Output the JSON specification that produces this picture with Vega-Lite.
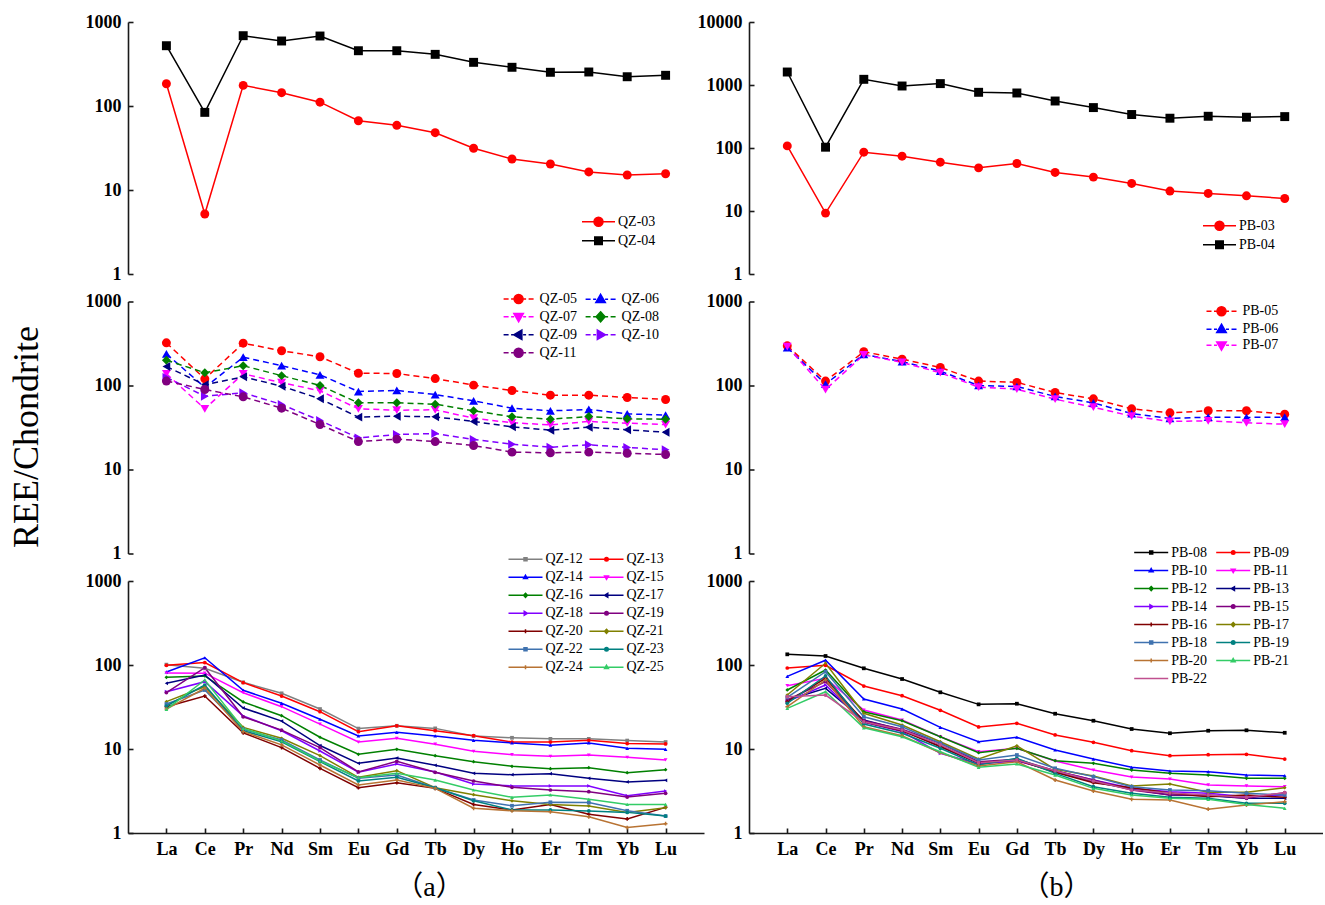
{
"$schema":"https://vega.github.io/schema/vega-lite/v6.json",
"padding":{"left":8,"top":13,"right":0,"bottom":0},
"background":"white",
"data":{"values":[
{"s":"QZ-03","e":"La","v":184},{"s":"QZ-03","e":"Ce","v":5.18},{"s":"QZ-03","e":"Pr","v":176},{"s":"QZ-03","e":"Nd","v":144},{"s":"QZ-03","e":"Sm","v":111},{"s":"QZ-03","e":"Eu","v":66.8},{"s":"QZ-03","e":"Gd","v":58.9},{"s":"QZ-03","e":"Tb","v":48.1},{"s":"QZ-03","e":"Dy","v":31.4},{"s":"QZ-03","e":"Ho","v":23.4},{"s":"QZ-03","e":"Er","v":20.4},{"s":"QZ-03","e":"Tm","v":16.4},{"s":"QZ-03","e":"Yb","v":15.1},{"s":"QZ-03","e":"Lu","v":15.6},
{"s":"QZ-04","e":"La","v":522},{"s":"QZ-04","e":"Ce","v":84},{"s":"QZ-04","e":"Pr","v":687},{"s":"QZ-04","e":"Nd","v":594},{"s":"QZ-04","e":"Sm","v":681},{"s":"QZ-04","e":"Eu","v":455},{"s":"QZ-04","e":"Gd","v":455},{"s":"QZ-04","e":"Tb","v":412},{"s":"QZ-04","e":"Dy","v":331},{"s":"QZ-04","e":"Ho","v":289},{"s":"QZ-04","e":"Er","v":252},{"s":"QZ-04","e":"Tm","v":254},{"s":"QZ-04","e":"Yb","v":223},{"s":"QZ-04","e":"Lu","v":232},
{"s":"PB-03","e":"La","v":108},{"s":"PB-03","e":"Ce","v":9.26},{"s":"PB-03","e":"Pr","v":85.8},{"s":"PB-03","e":"Nd","v":74.1},{"s":"PB-03","e":"Sm","v":59.6},{"s":"PB-03","e":"Eu","v":48.4},{"s":"PB-03","e":"Gd","v":56.8},{"s":"PB-03","e":"Tb","v":40.9},{"s":"PB-03","e":"Dy","v":34.5},{"s":"PB-03","e":"Ho","v":27.4},{"s":"PB-03","e":"Er","v":20.7},{"s":"PB-03","e":"Tm","v":19.0},{"s":"PB-03","e":"Yb","v":17.4},{"s":"PB-03","e":"Lu","v":15.8},
{"s":"PB-04","e":"La","v":1607},{"s":"PB-04","e":"Ce","v":103},{"s":"PB-04","e":"Pr","v":1231},{"s":"PB-04","e":"Nd","v":964},{"s":"PB-04","e":"Sm","v":1052},{"s":"PB-04","e":"Eu","v":766},{"s":"PB-04","e":"Gd","v":747},{"s":"PB-04","e":"Tb","v":557},{"s":"PB-04","e":"Dy","v":438},{"s":"PB-04","e":"Ho","v":340},{"s":"PB-04","e":"Er","v":297},{"s":"PB-04","e":"Tm","v":319},{"s":"PB-04","e":"Yb","v":308},{"s":"PB-04","e":"Lu","v":315},
{"s":"QZ-05","e":"La","v":322},{"s":"QZ-05","e":"Ce","v":120},{"s":"QZ-05","e":"Pr","v":319},{"s":"QZ-05","e":"Nd","v":259},{"s":"QZ-05","e":"Sm","v":220},{"s":"QZ-05","e":"Eu","v":140},{"s":"QZ-05","e":"Gd","v":139},{"s":"QZ-05","e":"Tb","v":121},{"s":"QZ-05","e":"Dy","v":101},{"s":"QZ-05","e":"Ho","v":87.2},{"s":"QZ-05","e":"Er","v":76.7},{"s":"QZ-05","e":"Tm","v":76.7},{"s":"QZ-05","e":"Yb","v":72},{"s":"QZ-05","e":"Lu","v":68.1},
{"s":"QZ-06","e":"La","v":238},{"s":"QZ-06","e":"Ce","v":95},{"s":"QZ-06","e":"Pr","v":217},{"s":"QZ-06","e":"Nd","v":172},{"s":"QZ-06","e":"Sm","v":134},{"s":"QZ-06","e":"Eu","v":84.8},{"s":"QZ-06","e":"Gd","v":87.2},{"s":"QZ-06","e":"Tb","v":78.1},{"s":"QZ-06","e":"Dy","v":65.7},{"s":"QZ-06","e":"Ho","v":53.7},{"s":"QZ-06","e":"Er","v":50.0},{"s":"QZ-06","e":"Tm","v":51.8},{"s":"QZ-06","e":"Yb","v":46.0},{"s":"QZ-06","e":"Lu","v":44.3},
{"s":"QZ-07","e":"La","v":138},{"s":"QZ-07","e":"Ce","v":52.8},{"s":"QZ-07","e":"Pr","v":138},{"s":"QZ-07","e":"Nd","v":108},{"s":"QZ-07","e":"Sm","v":86.5},{"s":"QZ-07","e":"Eu","v":52.8},{"s":"QZ-07","e":"Gd","v":50.8},{"s":"QZ-07","e":"Tb","v":51.4},{"s":"QZ-07","e":"Dy","v":40.8},{"s":"QZ-07","e":"Ho","v":36.0},{"s":"QZ-07","e":"Er","v":34.0},{"s":"QZ-07","e":"Tm","v":37.3},{"s":"QZ-07","e":"Yb","v":35.6},{"s":"QZ-07","e":"Lu","v":34.3},
{"s":"QZ-08","e":"La","v":200},{"s":"QZ-08","e":"Ce","v":142},{"s":"QZ-08","e":"Pr","v":172},{"s":"QZ-08","e":"Nd","v":131},{"s":"QZ-08","e":"Sm","v":100},{"s":"QZ-08","e":"Eu","v":62.2},{"s":"QZ-08","e":"Gd","v":62.2},{"s":"QZ-08","e":"Tb","v":59.9},{"s":"QZ-08","e":"Dy","v":50.0},{"s":"QZ-08","e":"Ho","v":42.4},{"s":"QZ-08","e":"Er","v":39.7},{"s":"QZ-08","e":"Tm","v":42.7},{"s":"QZ-08","e":"Yb","v":40.1},{"s":"QZ-08","e":"Lu","v":39.7},
{"s":"QZ-09","e":"La","v":168},{"s":"QZ-09","e":"Ce","v":102},{"s":"QZ-09","e":"Pr","v":127},{"s":"QZ-09","e":"Nd","v":98.2},{"s":"QZ-09","e":"Sm","v":69.5},{"s":"QZ-09","e":"Eu","v":42.0},{"s":"QZ-09","e":"Gd","v":43.1},{"s":"QZ-09","e":"Tb","v":42.4},{"s":"QZ-09","e":"Dy","v":37.3},{"s":"QZ-09","e":"Ho","v":32.2},{"s":"QZ-09","e":"Er","v":29.4},{"s":"QZ-09","e":"Tm","v":31.9},{"s":"QZ-09","e":"Yb","v":29.7},{"s":"QZ-09","e":"Lu","v":27.8},
{"s":"QZ-10","e":"La","v":125},{"s":"QZ-10","e":"Ce","v":74.6},{"s":"QZ-10","e":"Pr","v":81.9},{"s":"QZ-10","e":"Nd","v":59.4},{"s":"QZ-10","e":"Sm","v":38.3},{"s":"QZ-10","e":"Eu","v":23.8},{"s":"QZ-10","e":"Gd","v":26.1},{"s":"QZ-10","e":"Tb","v":26.8},{"s":"QZ-10","e":"Dy","v":22.8},{"s":"QZ-10","e":"Ho","v":20.0},{"s":"QZ-10","e":"Er","v":18.4},{"s":"QZ-10","e":"Tm","v":19.7},{"s":"QZ-10","e":"Yb","v":18.3},{"s":"QZ-10","e":"Lu","v":17.2},
{"s":"QZ-11","e":"La","v":113},{"s":"QZ-11","e":"Ce","v":89.6},{"s":"QZ-11","e":"Pr","v":73.3},{"s":"QZ-11","e":"Nd","v":53.7},{"s":"QZ-11","e":"Sm","v":34.3},{"s":"QZ-11","e":"Eu","v":21.5},{"s":"QZ-11","e":"Gd","v":23.0},{"s":"QZ-11","e":"Tb","v":21.5},{"s":"QZ-11","e":"Dy","v":19.3},{"s":"QZ-11","e":"Ho","v":16.1},{"s":"QZ-11","e":"Er","v":15.8},{"s":"QZ-11","e":"Tm","v":16.1},{"s":"QZ-11","e":"Yb","v":15.6},{"s":"QZ-11","e":"Lu","v":15.1},
{"s":"PB-05","e":"La","v":297},{"s":"PB-05","e":"Ce","v":113},{"s":"PB-05","e":"Pr","v":252},{"s":"PB-05","e":"Nd","v":206},{"s":"PB-05","e":"Sm","v":164},{"s":"PB-05","e":"Eu","v":113},{"s":"PB-05","e":"Gd","v":109},{"s":"PB-05","e":"Tb","v":82.5},{"s":"PB-05","e":"Dy","v":69.4},{"s":"PB-05","e":"Ho","v":52.8},{"s":"PB-05","e":"Er","v":47.3},{"s":"PB-05","e":"Tm","v":50.0},{"s":"PB-05","e":"Yb","v":50.0},{"s":"PB-05","e":"Lu","v":45.6},
{"s":"PB-06","e":"La","v":283},{"s":"PB-06","e":"Ce","v":104},{"s":"PB-06","e":"Pr","v":234},{"s":"PB-06","e":"Nd","v":193},{"s":"PB-06","e":"Sm","v":148},{"s":"PB-06","e":"Eu","v":100},{"s":"PB-06","e":"Gd","v":97.3},{"s":"PB-06","e":"Tb","v":74},{"s":"PB-06","e":"Dy","v":62.2},{"s":"PB-06","e":"Ho","v":46.4},{"s":"PB-06","e":"Er","v":40.5},{"s":"PB-06","e":"Tm","v":42.0},{"s":"PB-06","e":"Yb","v":41.7},{"s":"PB-06","e":"Lu","v":42.0},
{"s":"PB-07","e":"La","v":291},{"s":"PB-07","e":"Ce","v":89.6},{"s":"PB-07","e":"Pr","v":232},{"s":"PB-07","e":"Nd","v":188},{"s":"PB-07","e":"Sm","v":142},{"s":"PB-07","e":"Eu","v":95.5},{"s":"PB-07","e":"Gd","v":90.4},{"s":"PB-07","e":"Tb","v":68.7},{"s":"PB-07","e":"Dy","v":55.2},{"s":"PB-07","e":"Ho","v":43.1},{"s":"PB-07","e":"Er","v":37.3},{"s":"PB-07","e":"Tm","v":38.0},{"s":"PB-07","e":"Yb","v":36.0},{"s":"PB-07","e":"Lu","v":34.6},
{"s":"QZ-12","e":"La","v":101},{"s":"QZ-12","e":"Ce","v":91.3},{"s":"QZ-12","e":"Pr","v":62.2},{"s":"QZ-12","e":"Nd","v":46.0},{"s":"QZ-12","e":"Sm","v":29.9},{"s":"QZ-12","e":"Eu","v":17.5},{"s":"QZ-12","e":"Gd","v":18.9},{"s":"QZ-12","e":"Tb","v":17.6},{"s":"QZ-12","e":"Dy","v":14.3},{"s":"QZ-12","e":"Ho","v":13.6},{"s":"QZ-12","e":"Er","v":13.2},{"s":"QZ-12","e":"Tm","v":13.2},{"s":"QZ-12","e":"Yb","v":12.6},{"s":"QZ-12","e":"Lu","v":12.1},
{"s":"QZ-13","e":"La","v":99.1},{"s":"QZ-13","e":"Ce","v":107},{"s":"QZ-13","e":"Pr","v":61.6},{"s":"QZ-13","e":"Nd","v":42.7},{"s":"QZ-13","e":"Sm","v":27.8},{"s":"QZ-13","e":"Eu","v":16.1},{"s":"QZ-13","e":"Gd","v":18.9},{"s":"QZ-13","e":"Tb","v":16.5},{"s":"QZ-13","e":"Dy","v":14.4},{"s":"QZ-13","e":"Ho","v":12.1},{"s":"QZ-13","e":"Er","v":12.1},{"s":"QZ-13","e":"Tm","v":12.7},{"s":"QZ-13","e":"Yb","v":11.6},{"s":"QZ-13","e":"Lu","v":11.5},
{"s":"QZ-14","e":"La","v":82.6},{"s":"QZ-14","e":"Ce","v":122},{"s":"QZ-14","e":"Pr","v":50.0},{"s":"QZ-14","e":"Nd","v":35.0},{"s":"QZ-14","e":"Sm","v":22.6},{"s":"QZ-14","e":"Eu","v":14.3},{"s":"QZ-14","e":"Gd","v":15.8},{"s":"QZ-14","e":"Tb","v":14.3},{"s":"QZ-14","e":"Dy","v":12.7},{"s":"QZ-14","e":"Ho","v":11.8},{"s":"QZ-14","e":"Er","v":11.1},{"s":"QZ-14","e":"Tm","v":11.8},{"s":"QZ-14","e":"Yb","v":10.2},{"s":"QZ-14","e":"Lu","v":9.9},
{"s":"QZ-15","e":"La","v":80.3},{"s":"QZ-15","e":"Ce","v":80},{"s":"QZ-15","e":"Pr","v":46.8},{"s":"QZ-15","e":"Nd","v":31.9},{"s":"QZ-15","e":"Sm","v":19.8},{"s":"QZ-15","e":"Eu","v":12.1},{"s":"QZ-15","e":"Gd","v":13.4},{"s":"QZ-15","e":"Tb","v":11.4},{"s":"QZ-15","e":"Dy","v":9.39},{"s":"QZ-15","e":"Ho","v":8.55},{"s":"QZ-15","e":"Er","v":8.18},{"s":"QZ-15","e":"Tm","v":8.48},{"s":"QZ-15","e":"Yb","v":7.96},{"s":"QZ-15","e":"Lu","v":7.40},
{"s":"QZ-16","e":"La","v":71.4},{"s":"QZ-16","e":"Ce","v":74},{"s":"QZ-16","e":"Pr","v":36.3},{"s":"QZ-16","e":"Nd","v":24.9},{"s":"QZ-16","e":"Sm","v":13.8},{"s":"QZ-16","e":"Eu","v":8.65},{"s":"QZ-16","e":"Gd","v":9.92},{"s":"QZ-16","e":"Tb","v":8.33},{"s":"QZ-16","e":"Dy","v":7.06},{"s":"QZ-16","e":"Ho","v":6.22},{"s":"QZ-16","e":"Er","v":5.83},{"s":"QZ-16","e":"Tm","v":6.0},{"s":"QZ-16","e":"Yb","v":5.22},{"s":"QZ-16","e":"Lu","v":5.67},
{"s":"QZ-17","e":"La","v":60.5},{"s":"QZ-17","e":"Ce","v":76},{"s":"QZ-17","e":"Pr","v":30.8},{"s":"QZ-17","e":"Nd","v":21.5},{"s":"QZ-17","e":"Sm","v":11.0},{"s":"QZ-17","e":"Eu","v":6.75},{"s":"QZ-17","e":"Gd","v":7.81},{"s":"QZ-17","e":"Tb","v":6.40},{"s":"QZ-17","e":"Dy","v":5.13},{"s":"QZ-17","e":"Ho","v":4.94},{"s":"QZ-17","e":"Er","v":5.08},{"s":"QZ-17","e":"Tm","v":4.48},{"s":"QZ-17","e":"Yb","v":4.05},{"s":"QZ-17","e":"Lu","v":4.24},
{"s":"QZ-18","e":"La","v":48.1},{"s":"QZ-18","e":"Ce","v":63.3},{"s":"QZ-18","e":"Pr","v":24.7},{"s":"QZ-18","e":"Nd","v":16.5},{"s":"QZ-18","e":"Sm","v":9.47},{"s":"QZ-18","e":"Eu","v":5.28},{"s":"QZ-18","e":"Gd","v":6.63},{"s":"QZ-18","e":"Tb","v":5.33},{"s":"QZ-18","e":"Dy","v":3.83},{"s":"QZ-18","e":"Ho","v":3.63},{"s":"QZ-18","e":"Er","v":3.63},{"s":"QZ-18","e":"Tm","v":3.63},{"s":"QZ-18","e":"Yb","v":2.78},{"s":"QZ-18","e":"Lu","v":3.16},
{"s":"QZ-19","e":"La","v":47},{"s":"QZ-19","e":"Ce","v":92.9},{"s":"QZ-19","e":"Pr","v":24.2},{"s":"QZ-19","e":"Nd","v":16.8},{"s":"QZ-19","e":"Sm","v":10.4},{"s":"QZ-19","e":"Eu","v":5.33},{"s":"QZ-19","e":"Gd","v":7.13},{"s":"QZ-19","e":"Tb","v":5.28},{"s":"QZ-19","e":"Dy","v":4.16},{"s":"QZ-19","e":"Ho","v":3.50},{"s":"QZ-19","e":"Er","v":3.25},{"s":"QZ-19","e":"Tm","v":3.10},{"s":"QZ-19","e":"Yb","v":2.68},{"s":"QZ-19","e":"Lu","v":2.97},
{"s":"QZ-20","e":"La","v":31.9},{"s":"QZ-20","e":"Ce","v":42.7},{"s":"QZ-20","e":"Pr","v":15.6},{"s":"QZ-20","e":"Nd","v":10.4},{"s":"QZ-20","e":"Sm","v":5.89},{"s":"QZ-20","e":"Eu","v":3.46},{"s":"QZ-20","e":"Gd","v":3.97},{"s":"QZ-20","e":"Tb","v":3.40},{"s":"QZ-20","e":"Dy","v":2.19},{"s":"QZ-20","e":"Ho","v":1.88},{"s":"QZ-20","e":"Er","v":2.19},{"s":"QZ-20","e":"Tm","v":1.67},{"s":"QZ-20","e":"Yb","v":1.47},{"s":"QZ-20","e":"Lu","v":2.02},
{"s":"QZ-21","e":"La","v":36.6},{"s":"QZ-21","e":"Ce","v":55.2},{"s":"QZ-21","e":"Pr","v":18.1},{"s":"QZ-21","e":"Nd","v":13.4},{"s":"QZ-21","e":"Sm","v":8.33},{"s":"QZ-21","e":"Eu","v":4.60},{"s":"QZ-21","e":"Gd","v":5.52},{"s":"QZ-21","e":"Tb","v":3.46},{"s":"QZ-21","e":"Dy","v":2.86},{"s":"QZ-21","e":"Ho","v":2.42},{"s":"QZ-21","e":"Er","v":2.19},{"s":"QZ-21","e":"Tm","v":2.10},{"s":"QZ-21","e":"Yb","v":1.76},{"s":"QZ-21","e":"Lu","v":2.0},
{"s":"QZ-22","e":"La","v":34.3},{"s":"QZ-22","e":"Ce","v":50.4},{"s":"QZ-22","e":"Pr","v":17.2},{"s":"QZ-22","e":"Nd","v":12.8},{"s":"QZ-22","e":"Sm","v":7.40},{"s":"QZ-22","e":"Eu","v":4.48},{"s":"QZ-22","e":"Gd","v":4.90},{"s":"QZ-22","e":"Tb","v":3.46},{"s":"QZ-22","e":"Dy","v":2.47},{"s":"QZ-22","e":"Ho","v":2.11},{"s":"QZ-22","e":"Er","v":2.32},{"s":"QZ-22","e":"Tm","v":2.30},{"s":"QZ-22","e":"Yb","v":1.84},{"s":"QZ-22","e":"Lu","v":1.59},
{"s":"QZ-23","e":"La","v":32.5},{"s":"QZ-23","e":"Ce","v":57.8},{"s":"QZ-23","e":"Pr","v":16.5},{"s":"QZ-23","e":"Nd","v":12.2},{"s":"QZ-23","e":"Sm","v":7.06},{"s":"QZ-23","e":"Eu","v":4.16},{"s":"QZ-23","e":"Gd","v":4.60},{"s":"QZ-23","e":"Tb","v":3.46},{"s":"QZ-23","e":"Dy","v":2.42},{"s":"QZ-23","e":"Ho","v":1.88},{"s":"QZ-23","e":"Er","v":1.88},{"s":"QZ-23","e":"Tm","v":1.83},{"s":"QZ-23","e":"Yb","v":1.76},{"s":"QZ-23","e":"Lu","v":1.59},
{"s":"QZ-24","e":"La","v":29.9},{"s":"QZ-24","e":"Ce","v":52.8},{"s":"QZ-24","e":"Pr","v":16.1},{"s":"QZ-24","e":"Nd","v":11.2},{"s":"QZ-24","e":"Sm","v":6.45},{"s":"QZ-24","e":"Eu","v":3.73},{"s":"QZ-24","e":"Gd","v":4.27},{"s":"QZ-24","e":"Tb","v":3.40},{"s":"QZ-24","e":"Dy","v":1.97},{"s":"QZ-24","e":"Ho","v":1.84},{"s":"QZ-24","e":"Er","v":1.79},{"s":"QZ-24","e":"Tm","v":1.56},{"s":"QZ-24","e":"Yb","v":1.16},{"s":"QZ-24","e":"Lu","v":1.29},
{"s":"QZ-25","e":"La","v":29.7},{"s":"QZ-25","e":"Ce","v":66.3},{"s":"QZ-25","e":"Pr","v":17.6},{"s":"QZ-25","e":"Nd","v":12.5},{"s":"QZ-25","e":"Sm","v":7.20},{"s":"QZ-25","e":"Eu","v":4.56},{"s":"QZ-25","e":"Gd","v":5.13},{"s":"QZ-25","e":"Tb","v":4.27},{"s":"QZ-25","e":"Dy","v":3.25},{"s":"QZ-25","e":"Ho","v":2.66},{"s":"QZ-25","e":"Er","v":2.84},{"s":"QZ-25","e":"Tm","v":2.52},{"s":"QZ-25","e":"Yb","v":2.19},{"s":"QZ-25","e":"Lu","v":2.19},
{"s":"PB-08","e":"La","v":134},{"s":"PB-08","e":"Ce","v":128},{"s":"PB-08","e":"Pr","v":91.3},{"s":"PB-08","e":"Nd","v":68.1},{"s":"PB-08","e":"Sm","v":47.3},{"s":"PB-08","e":"Eu","v":34.0},{"s":"PB-08","e":"Gd","v":34.6},{"s":"PB-08","e":"Tb","v":26.3},{"s":"PB-08","e":"Dy","v":21.7},{"s":"PB-08","e":"Ho","v":17.3},{"s":"PB-08","e":"Er","v":15.4},{"s":"PB-08","e":"Tm","v":16.5},{"s":"PB-08","e":"Yb","v":16.7},{"s":"PB-08","e":"Lu","v":15.6},
{"s":"PB-09","e":"La","v":92.1},{"s":"PB-09","e":"Ce","v":99.2},{"s":"PB-09","e":"Pr","v":56.2},{"s":"PB-09","e":"Nd","v":43.1},{"s":"PB-09","e":"Sm","v":28.9},{"s":"PB-09","e":"Eu","v":18.3},{"s":"PB-09","e":"Gd","v":20.2},{"s":"PB-09","e":"Tb","v":14.7},{"s":"PB-09","e":"Dy","v":12.0},{"s":"PB-09","e":"Ho","v":9.55},{"s":"PB-09","e":"Er","v":8.33},{"s":"PB-09","e":"Tm","v":8.56},{"s":"PB-09","e":"Yb","v":8.65},{"s":"PB-09","e":"Lu","v":7.60},
{"s":"PB-10","e":"La","v":73.3},{"s":"PB-10","e":"Ce","v":114},{"s":"PB-10","e":"Pr","v":39.4},{"s":"PB-10","e":"Nd","v":29.9},{"s":"PB-10","e":"Sm","v":18.1},{"s":"PB-10","e":"Eu","v":12.2},{"s":"PB-10","e":"Gd","v":13.8},{"s":"PB-10","e":"Tb","v":9.73},{"s":"PB-10","e":"Dy","v":7.60},{"s":"PB-10","e":"Ho","v":6.05},{"s":"PB-10","e":"Er","v":5.47},{"s":"PB-10","e":"Tm","v":5.37},{"s":"PB-10","e":"Yb","v":4.90},{"s":"PB-10","e":"Lu","v":4.81},
{"s":"PB-11","e":"La","v":56.7},{"s":"PB-11","e":"Ce","v":69.4},{"s":"PB-11","e":"Pr","v":29.1},{"s":"PB-11","e":"Nd","v":22.1},{"s":"PB-11","e":"Sm","v":14.0},{"s":"PB-11","e":"Eu","v":9.29},{"s":"PB-11","e":"Gd","v":10.2},{"s":"PB-11","e":"Tb","v":7.20},{"s":"PB-11","e":"Dy","v":5.62},{"s":"PB-11","e":"Ho","v":4.64},{"s":"PB-11","e":"Er","v":4.39},{"s":"PB-11","e":"Tm","v":3.73},{"s":"PB-11","e":"Yb","v":3.63},{"s":"PB-11","e":"Lu","v":3.56},
{"s":"PB-12","e":"La","v":50.4},{"s":"PB-12","e":"Ce","v":87.2},{"s":"PB-12","e":"Pr","v":27.8},{"s":"PB-12","e":"Nd","v":21.7},{"s":"PB-12","e":"Sm","v":14.0},{"s":"PB-12","e":"Eu","v":9.04},{"s":"PB-12","e":"Gd","v":10.2},{"s":"PB-12","e":"Tb","v":7.26},{"s":"PB-12","e":"Dy","v":6.75},{"s":"PB-12","e":"Ho","v":5.62},{"s":"PB-12","e":"Er","v":5.13},{"s":"PB-12","e":"Tm","v":4.90},{"s":"PB-12","e":"Yb","v":4.48},{"s":"PB-12","e":"Lu","v":4.48},
{"s":"PB-13","e":"La","v":38.3},{"s":"PB-13","e":"Ce","v":52.8},{"s":"PB-13","e":"Pr","v":22.1},{"s":"PB-13","e":"Nd","v":16.8},{"s":"PB-13","e":"Sm","v":10.7},{"s":"PB-13","e":"Eu","v":6.75},{"s":"PB-13","e":"Gd","v":7.40},{"s":"PB-13","e":"Tb","v":5.37},{"s":"PB-13","e":"Dy","v":4.08},{"s":"PB-13","e":"Ho","v":3.31},{"s":"PB-13","e":"Er","v":2.84},{"s":"PB-13","e":"Tm","v":2.78},{"s":"PB-13","e":"Yb","v":2.59},{"s":"PB-13","e":"Lu","v":2.59},
{"s":"PB-14","e":"La","v":36.6},{"s":"PB-14","e":"Ce","v":57.8},{"s":"PB-14","e":"Pr","v":20.8},{"s":"PB-14","e":"Nd","v":16.1},{"s":"PB-14","e":"Sm","v":8.89},{"s":"PB-14","e":"Eu","v":6.63},{"s":"PB-14","e":"Gd","v":7.20},{"s":"PB-14","e":"Tb","v":5.52},{"s":"PB-14","e":"Dy","v":4.27},{"s":"PB-14","e":"Ho","v":3.40},{"s":"PB-14","e":"Er","v":3.10},{"s":"PB-14","e":"Tm","v":2.97},{"s":"PB-14","e":"Yb","v":2.71},{"s":"PB-14","e":"Lu","v":2.84},
{"s":"PB-15","e":"La","v":38.3},{"s":"PB-15","e":"Ce","v":63.3},{"s":"PB-15","e":"Pr","v":21.7},{"s":"PB-15","e":"Nd","v":17.2},{"s":"PB-15","e":"Sm","v":11.7},{"s":"PB-15","e":"Eu","v":7.06},{"s":"PB-15","e":"Gd","v":7.54},{"s":"PB-15","e":"Tb","v":5.52},{"s":"PB-15","e":"Dy","v":4.27},{"s":"PB-15","e":"Ho","v":3.25},{"s":"PB-15","e":"Er","v":2.84},{"s":"PB-15","e":"Tm","v":2.84},{"s":"PB-15","e":"Yb","v":2.59},{"s":"PB-15","e":"Lu","v":3.02},
{"s":"PB-16","e":"La","v":36.6},{"s":"PB-16","e":"Ce","v":69.4},{"s":"PB-16","e":"Pr","v":21.1},{"s":"PB-16","e":"Nd","v":16.5},{"s":"PB-16","e":"Sm","v":10.7},{"s":"PB-16","e":"Eu","v":6.87},{"s":"PB-16","e":"Gd","v":7.40},{"s":"PB-16","e":"Tb","v":5.28},{"s":"PB-16","e":"Dy","v":3.97},{"s":"PB-16","e":"Ho","v":3.46},{"s":"PB-16","e":"Er","v":3.0},{"s":"PB-16","e":"Tm","v":2.71},{"s":"PB-16","e":"Yb","v":2.84},{"s":"PB-16","e":"Lu","v":2.66},
{"s":"PB-17","e":"La","v":43.9},{"s":"PB-17","e":"Ce","v":105},{"s":"PB-17","e":"Pr","v":26.6},{"s":"PB-17","e":"Nd","v":19.3},{"s":"PB-17","e":"Sm","v":12.2},{"s":"PB-17","e":"Eu","v":7.60},{"s":"PB-17","e":"Gd","v":10.9},{"s":"PB-17","e":"Tb","v":5.73},{"s":"PB-17","e":"Dy","v":4.77},{"s":"PB-17","e":"Ho","v":3.63},{"s":"PB-17","e":"Er","v":3.83},{"s":"PB-17","e":"Tm","v":3.05},{"s":"PB-17","e":"Yb","v":3.05},{"s":"PB-17","e":"Lu","v":3.46},
{"s":"PB-18","e":"La","v":41.2},{"s":"PB-18","e":"Ce","v":83.3},{"s":"PB-18","e":"Pr","v":24.2},{"s":"PB-18","e":"Nd","v":18.4},{"s":"PB-18","e":"Sm","v":11.7},{"s":"PB-18","e":"Eu","v":7.40},{"s":"PB-18","e":"Gd","v":8.48},{"s":"PB-18","e":"Tb","v":5.89},{"s":"PB-18","e":"Dy","v":4.69},{"s":"PB-18","e":"Ho","v":3.56},{"s":"PB-18","e":"Er","v":3.25},{"s":"PB-18","e":"Tm","v":3.19},{"s":"PB-18","e":"Yb","v":2.97},{"s":"PB-18","e":"Lu","v":2.84},
{"s":"PB-19","e":"La","v":35.0},{"s":"PB-19","e":"Ce","v":74.0},{"s":"PB-19","e":"Pr","v":19.8},{"s":"PB-19","e":"Nd","v":15.4},{"s":"PB-19","e":"Sm","v":10.2},{"s":"PB-19","e":"Eu","v":6.45},{"s":"PB-19","e":"Gd","v":7.75},{"s":"PB-19","e":"Tb","v":5.13},{"s":"PB-19","e":"Dy","v":3.56},{"s":"PB-19","e":"Ho","v":2.97},{"s":"PB-19","e":"Er","v":2.66},{"s":"PB-19","e":"Tm","v":2.59},{"s":"PB-19","e":"Yb","v":2.26},{"s":"PB-19","e":"Lu","v":2.26},
{"s":"PB-20","e":"La","v":31.9},{"s":"PB-20","e":"Ce","v":66.3},{"s":"PB-20","e":"Pr","v":18.4},{"s":"PB-20","e":"Nd","v":14.4},{"s":"PB-20","e":"Sm","v":9.04},{"s":"PB-20","e":"Eu","v":6.28},{"s":"PB-20","e":"Gd","v":7.06},{"s":"PB-20","e":"Tb","v":4.27},{"s":"PB-20","e":"Dy","v":3.16},{"s":"PB-20","e":"Ho","v":2.52},{"s":"PB-20","e":"Er","v":2.47},{"s":"PB-20","e":"Tm","v":1.92},{"s":"PB-20","e":"Yb","v":2.15},{"s":"PB-20","e":"Lu","v":2.36},
{"s":"PB-21","e":"La","v":30.5},{"s":"PB-21","e":"Ce","v":48.1},{"s":"PB-21","e":"Pr","v":17.9},{"s":"PB-21","e":"Nd","v":14.0},{"s":"PB-21","e":"Sm","v":9.29},{"s":"PB-21","e":"Eu","v":6.05},{"s":"PB-21","e":"Gd","v":6.63},{"s":"PB-21","e":"Tb","v":4.90},{"s":"PB-21","e":"Dy","v":3.40},{"s":"PB-21","e":"Ho","v":2.84},{"s":"PB-21","e":"Er","v":2.59},{"s":"PB-21","e":"Tm","v":2.52},{"s":"PB-21","e":"Yb","v":2.19},{"s":"PB-21","e":"Lu","v":1.97},
{"s":"PB-22","e":"La","v":42.0},{"s":"PB-22","e":"Ce","v":43.9},{"s":"PB-22","e":"Pr","v":21.1},{"s":"PB-22","e":"Nd","v":16.8},{"s":"PB-22","e":"Sm","v":11.2},{"s":"PB-22","e":"Eu","v":6.87},{"s":"PB-22","e":"Gd","v":7.40},{"s":"PB-22","e":"Tb","v":5.52},{"s":"PB-22","e":"Dy","v":4.16},{"s":"PB-22","e":"Ho","v":3.25},{"s":"PB-22","e":"Er","v":3.0},{"s":"PB-22","e":"Tm","v":2.84},{"s":"PB-22","e":"Yb","v":2.66},{"s":"PB-22","e":"Lu","v":3.02}
]},
"columns":2,
"bounds":"flush",
"spacing":{"row":27.5,"column":45},
"resolve":{"scale":{"fill":"independent","stroke":"independent","shape":"independent"}},
"concat":[
{
 "width":576,"height":252,
 "resolve":{"scale":{"fill":"independent","stroke":"independent","shape":"independent"}},
 "layer":[
  {"transform":[{"filter":{"field":"s","oneOf":["QZ-03","QZ-04"]}}],
   "mark":{"type":"line","strokeWidth":1.5},
   "encoding":{
    "x":{"field":"e","type":"ordinal","sort":["La","Ce","Pr","Nd","Sm","Eu","Gd","Tb","Dy","Ho","Er","Tm","Yb","Lu"],"scale":{"type":"point","padding":1},"axis":null},
    "y":{"field":"v","type":"quantitative","scale":{"type":"log","domain":[1,1000],"nice":false},"axis":{"values":[1,10,100,1000],"format":"d","title":null}},
    "stroke":{"field":"s","type":"nominal","scale":{"domain":["QZ-03","QZ-04"],"range":["#ff0000","#000000"]},"legend":null}}},
  {"transform":[{"filter":{"field":"s","oneOf":["QZ-03","QZ-04"]}}],
   "mark":{"type":"point","filled":true,"opacity":1,"size":80},
   "encoding":{
    "x":{"field":"e","type":"ordinal","sort":["La","Ce","Pr","Nd","Sm","Eu","Gd","Tb","Dy","Ho","Er","Tm","Yb","Lu"],"scale":{"type":"point","padding":1}},
    "y":{"field":"v","type":"quantitative","scale":{"type":"log","domain":[1,1000],"nice":false}},
    "fill":{"field":"s","type":"nominal","scale":{"domain":["QZ-03","QZ-04"],"range":["#ff0000","#000000"]},"legend":null},
    "shape":{"field":"s","type":"nominal","scale":{"domain":["QZ-03","QZ-04"],"range":["circle","square"]},"legend":null}}},
  {"transform":[{"filter":"false"}],
   "mark":{"type":"point","filled":true,"opacity":1},
   "encoding":{
    "fill":{"field":"s","type":"nominal","scale":{"domain":["QZ-03","QZ-04"],"range":["#ff0000","#000000"]},"legend":{"title":null,"orient":"none","legendX":463.5,"legendY":192.7,"symbolSize":100,"labelOffset":12.5,"rowPadding":4,"direction":"vertical"}},
    "stroke":{"field":"s","type":"nominal","scale":{"domain":["QZ-03","QZ-04"],"range":["#ff0000","#000000"]},"legend":{"title":null,"orient":"none","legendX":463.5,"legendY":192.7,"symbolSize":100,"labelOffset":12.5,"rowPadding":4,"direction":"vertical"}},
    "shape":{"field":"s","type":"nominal","scale":{"domain":["QZ-03","QZ-04"],"range":["M-3.3,0H3.3M-0.9,0A0.9,0.9 0 1,0 0.9,0A0.9,0.9 0 1,0 -0.9,0Z","M-3.3,0H3.3M-0.75,-0.75H0.75V0.75H-0.75Z"]},"legend":{"title":null,"orient":"none","legendX":463.5,"legendY":192.7,"symbolSize":100,"labelOffset":12.5,"rowPadding":4,"direction":"vertical"}}}}
 ]
},
{
 "width":574,"height":252,
 "resolve":{"scale":{"fill":"independent","stroke":"independent","shape":"independent"}},
 "layer":[
  {"transform":[{"filter":{"field":"s","oneOf":["PB-03","PB-04"]}}],
   "mark":{"type":"line","strokeWidth":1.5},
   "encoding":{
    "x":{"field":"e","type":"ordinal","sort":["La","Ce","Pr","Nd","Sm","Eu","Gd","Tb","Dy","Ho","Er","Tm","Yb","Lu"],"scale":{"type":"point","padding":1},"axis":null},
    "y":{"field":"v","type":"quantitative","scale":{"type":"log","domain":[1,10000],"nice":false},"axis":{"values":[1,10,100,1000,10000],"format":"d","title":null}},
    "stroke":{"field":"s","type":"nominal","scale":{"domain":["PB-03","PB-04"],"range":["#ff0000","#000000"]},"legend":null}}},
  {"transform":[{"filter":{"field":"s","oneOf":["PB-03","PB-04"]}}],
   "mark":{"type":"point","filled":true,"opacity":1,"size":80},
   "encoding":{
    "x":{"field":"e","type":"ordinal","sort":["La","Ce","Pr","Nd","Sm","Eu","Gd","Tb","Dy","Ho","Er","Tm","Yb","Lu"],"scale":{"type":"point","padding":1}},
    "y":{"field":"v","type":"quantitative","scale":{"type":"log","domain":[1,10000],"nice":false}},
    "fill":{"field":"s","type":"nominal","scale":{"domain":["PB-03","PB-04"],"range":["#ff0000","#000000"]},"legend":null},
    "shape":{"field":"s","type":"nominal","scale":{"domain":["PB-03","PB-04"],"range":["circle","square"]},"legend":null}}},
  {"transform":[{"filter":"false"}],
   "mark":{"type":"point","filled":true,"opacity":1},
   "encoding":{
    "fill":{"field":"s","type":"nominal","scale":{"domain":["PB-03","PB-04"],"range":["#ff0000","#000000"]},"legend":{"title":null,"orient":"none","legendX":463.5,"legendY":196.7,"symbolSize":100,"labelOffset":12.5,"rowPadding":4,"direction":"vertical"}},
    "stroke":{"field":"s","type":"nominal","scale":{"domain":["PB-03","PB-04"],"range":["#ff0000","#000000"]},"legend":{"title":null,"orient":"none","legendX":463.5,"legendY":196.7,"symbolSize":100,"labelOffset":12.5,"rowPadding":4,"direction":"vertical"}},
    "shape":{"field":"s","type":"nominal","scale":{"domain":["PB-03","PB-04"],"range":["M-3.3,0H3.3M-0.9,0A0.9,0.9 0 1,0 0.9,0A0.9,0.9 0 1,0 -0.9,0Z","M-3.3,0H3.3M-0.75,-0.75H0.75V0.75H-0.75Z"]},"legend":{"title":null,"orient":"none","legendX":463.5,"legendY":196.7,"symbolSize":100,"labelOffset":12.5,"rowPadding":4,"direction":"vertical"}}}}
 ]
},
{
 "width":576,"height":252,
 "resolve":{"scale":{"fill":"independent","stroke":"independent","shape":"independent"}},
 "layer":[
  {"transform":[{"filter":{"field":"s","oneOf":["QZ-05","QZ-06","QZ-07","QZ-08","QZ-09","QZ-10","QZ-11"]}}],
   "mark":{"type":"line","strokeWidth":1.5,"strokeDash":[6,4]},
   "encoding":{
    "x":{"field":"e","type":"ordinal","sort":["La","Ce","Pr","Nd","Sm","Eu","Gd","Tb","Dy","Ho","Er","Tm","Yb","Lu"],"scale":{"type":"point","padding":1},"axis":null},
    "y":{"field":"v","type":"quantitative","scale":{"type":"log","domain":[1,1000],"nice":false},"axis":{"values":[1,10,100,1000],"format":"d","title":"REE/Chondrite","titleFont":"Liberation Serif","titleFontSize":36,"titleFontWeight":"normal","titleColor":"#000","titleAngle":-90,"titleX":-90.5,"titleY":135,"titleAlign":"center","titleBaseline":"alphabetic"}},
    "stroke":{"field":"s","type":"nominal","scale":{"domain":["QZ-05","QZ-06","QZ-07","QZ-08","QZ-09","QZ-10","QZ-11"],"range":["#ff0000","#0000ff","#ff00ff","#008000","#000080","#8000ff","#800080"]},"legend":null}}},
  {"transform":[{"filter":{"field":"s","oneOf":["QZ-05","QZ-06","QZ-07","QZ-08","QZ-09","QZ-10","QZ-11"]}}],
   "mark":{"type":"point","filled":true,"opacity":1,"size":80},
   "encoding":{
    "x":{"field":"e","type":"ordinal","sort":["La","Ce","Pr","Nd","Sm","Eu","Gd","Tb","Dy","Ho","Er","Tm","Yb","Lu"],"scale":{"type":"point","padding":1}},
    "y":{"field":"v","type":"quantitative","scale":{"type":"log","domain":[1,1000],"nice":false}},
    "fill":{"field":"s","type":"nominal","scale":{"domain":["QZ-05","QZ-06","QZ-07","QZ-08","QZ-09","QZ-10","QZ-11"],"range":["#ff0000","#0000ff","#ff00ff","#008000","#000080","#8000ff","#800080"]},"legend":null},
    "shape":{"field":"s","type":"nominal","scale":{"domain":["QZ-05","QZ-06","QZ-07","QZ-08","QZ-09","QZ-10","QZ-11"],"range":["circle","triangle-up","triangle-down","diamond","triangle-left","triangle-right","circle"]},"legend":null}}},
  {"transform":[{"filter":"false"}],
   "mark":{"type":"point","filled":true,"opacity":1},
   "encoding":{
    "fill":{"field":"s","type":"nominal","scale":{"domain":["QZ-05","QZ-06","QZ-07","QZ-08","QZ-09","QZ-10","QZ-11"],"range":["#ff0000","#0000ff","#ff00ff","#008000","#000080","#8000ff","#800080"]},"legend":{"title":null,"orient":"none","legendX":383.6,"legendY":-9.7,"symbolSize":100,"labelOffset":14,"rowPadding":2,"columns":2,"columnPadding":5,"direction":"horizontal"}},
    "stroke":{"field":"s","type":"nominal","scale":{"domain":["QZ-05","QZ-06","QZ-07","QZ-08","QZ-09","QZ-10","QZ-11"],"range":["#ff0000","#0000ff","#ff00ff","#008000","#000080","#8000ff","#800080"]},"legend":{"title":null,"orient":"none","legendX":383.6,"legendY":-9.7,"symbolSize":100,"labelOffset":14,"rowPadding":2,"columns":2,"columnPadding":5,"direction":"horizontal"}},
    "shape":{"field":"s","type":"nominal","scale":{"domain":["QZ-05","QZ-06","QZ-07","QZ-08","QZ-09","QZ-10","QZ-11"],"range":[
      "M-3,0H-2M-1.5,0H-0.9M0.9,0H1.5M2,0H3M-0.9,0A0.9,0.9 0 1,0 0.9,0A0.9,0.9 0 1,0 -0.9,0Z",
      "M-3,0H-2M-1.5,0H-0.9M0.9,0H1.5M2,0H3M0,-1L0.95,0.65H-0.95Z",
      "M-3,0H-2M-1.5,0H-0.9M0.9,0H1.5M2,0H3M0,1L0.95,-0.65H-0.95Z",
      "M-3,0H-2M-1.5,0H-0.9M0.9,0H1.5M2,0H3M0,-1L0.9,0L0,1L-0.9,0Z",
      "M-3,0H-2M-1.5,0H-0.9M0.9,0H1.5M2,0H3M-1,0L0.65,-0.95V0.95Z",
      "M-3,0H-2M-1.5,0H-0.9M0.9,0H1.5M2,0H3M1,0L-0.65,-0.95V0.95Z",
      "M-3,0H-2M-1.5,0H-0.9M0.9,0H1.5M2,0H3M-0.9,0A0.9,0.9 0 1,0 0.9,0A0.9,0.9 0 1,0 -0.9,0Z"]},"legend":{"title":null,"orient":"none","legendX":383.6,"legendY":-9.7,"symbolSize":100,"labelOffset":14,"rowPadding":2,"columns":2,"columnPadding":5,"direction":"horizontal"}}}}
 ]
},
{
 "width":574,"height":252,
 "resolve":{"scale":{"fill":"independent","stroke":"independent","shape":"independent"}},
 "layer":[
  {"transform":[{"filter":{"field":"s","oneOf":["PB-05","PB-06","PB-07"]}}],
   "mark":{"type":"line","strokeWidth":1.5,"strokeDash":[6,4]},
   "encoding":{
    "x":{"field":"e","type":"ordinal","sort":["La","Ce","Pr","Nd","Sm","Eu","Gd","Tb","Dy","Ho","Er","Tm","Yb","Lu"],"scale":{"type":"point","padding":1},"axis":null},
    "y":{"field":"v","type":"quantitative","scale":{"type":"log","domain":[1,1000],"nice":false},"axis":{"values":[1,10,100,1000],"format":"d","title":null}},
    "stroke":{"field":"s","type":"nominal","scale":{"domain":["PB-05","PB-06","PB-07"],"range":["#ff0000","#0000ff","#ff00ff"]},"legend":null}}},
  {"transform":[{"filter":{"field":"s","oneOf":["PB-05","PB-06","PB-07"]}}],
   "mark":{"type":"point","filled":true,"opacity":1,"size":80},
   "encoding":{
    "x":{"field":"e","type":"ordinal","sort":["La","Ce","Pr","Nd","Sm","Eu","Gd","Tb","Dy","Ho","Er","Tm","Yb","Lu"],"scale":{"type":"point","padding":1}},
    "y":{"field":"v","type":"quantitative","scale":{"type":"log","domain":[1,1000],"nice":false}},
    "fill":{"field":"s","type":"nominal","scale":{"domain":["PB-05","PB-06","PB-07"],"range":["#ff0000","#0000ff","#ff00ff"]},"legend":null},
    "shape":{"field":"s","type":"nominal","scale":{"domain":["PB-05","PB-06","PB-07"],"range":["circle","triangle-up","triangle-down"]},"legend":null}}},
  {"transform":[{"filter":"false"}],
   "mark":{"type":"point","filled":true,"opacity":1},
   "encoding":{
    "fill":{"field":"s","type":"nominal","scale":{"domain":["PB-05","PB-06","PB-07"],"range":["#ff0000","#0000ff","#ff00ff"]},"legend":{"title":null,"orient":"none","legendX":465.5,"legendY":2.7,"symbolSize":100,"labelOffset":14,"rowPadding":2,"direction":"vertical"}},
    "stroke":{"field":"s","type":"nominal","scale":{"domain":["PB-05","PB-06","PB-07"],"range":["#ff0000","#0000ff","#ff00ff"]},"legend":{"title":null,"orient":"none","legendX":465.5,"legendY":2.7,"symbolSize":100,"labelOffset":14,"rowPadding":2,"direction":"vertical"}},
    "shape":{"field":"s","type":"nominal","scale":{"domain":["PB-05","PB-06","PB-07"],"range":[
      "M-3,0H-2M-1.5,0H-0.9M0.9,0H1.5M2,0H3M-0.9,0A0.9,0.9 0 1,0 0.9,0A0.9,0.9 0 1,0 -0.9,0Z",
      "M-3,0H-2M-1.5,0H-0.9M0.9,0H1.5M2,0H3M0,-1L0.95,0.65H-0.95Z",
      "M-3,0H-2M-1.5,0H-0.9M0.9,0H1.5M2,0H3M0,1L0.95,-0.65H-0.95Z"]},"legend":{"title":null,"orient":"none","legendX":465.5,"legendY":2.7,"symbolSize":100,"labelOffset":14,"rowPadding":2,"direction":"vertical"}}}}
 ]
},
{
 "width":576,"height":252,
 "resolve":{"scale":{"fill":"independent","stroke":"independent","shape":"independent"}},
 "layer":[
  {"transform":[{"filter":{"field":"s","oneOf":["QZ-12","QZ-13","QZ-14","QZ-15","QZ-16","QZ-17","QZ-18","QZ-19","QZ-20","QZ-21","QZ-22","QZ-23","QZ-24","QZ-25"]}}],
   "mark":{"type":"line","strokeWidth":1.5},
   "encoding":{
    "x":{"field":"e","type":"ordinal","sort":["La","Ce","Pr","Nd","Sm","Eu","Gd","Tb","Dy","Ho","Er","Tm","Yb","Lu"],"scale":{"type":"point","padding":1},"axis":{"title":"（a）","titleFont":"Liberation Serif, Noto Sans CJK SC","titleFontSize":28,"titleFontWeight":"normal","titleColor":"#000","titleX":301,"titleY":54,"titleAlign":"center","titleBaseline":"middle","labelAngle":0}},
    "y":{"field":"v","type":"quantitative","scale":{"type":"log","domain":[1,1000],"nice":false},"axis":{"values":[1,10,100,1000],"format":"d","title":null}},
    "stroke":{"field":"s","type":"nominal","scale":{"domain":["QZ-12","QZ-13","QZ-14","QZ-15","QZ-16","QZ-17","QZ-18","QZ-19","QZ-20","QZ-21","QZ-22","QZ-23","QZ-24","QZ-25"],"range":["#808080","#ff0000","#0000ff","#ff00ff","#008000","#000080","#8000ff","#800080","#800000","#808000","#3f72af","#008080","#b87333","#33cc66"]},"legend":null}}},
  {"transform":[{"filter":{"field":"s","oneOf":["QZ-12","QZ-13","QZ-14","QZ-15","QZ-16","QZ-17","QZ-18","QZ-19","QZ-20","QZ-21","QZ-22","QZ-23","QZ-24","QZ-25"]}}],
   "mark":{"type":"point","filled":true,"opacity":1,"size":14},
   "encoding":{
    "x":{"field":"e","type":"ordinal","sort":["La","Ce","Pr","Nd","Sm","Eu","Gd","Tb","Dy","Ho","Er","Tm","Yb","Lu"],"scale":{"type":"point","padding":1}},
    "y":{"field":"v","type":"quantitative","scale":{"type":"log","domain":[1,1000],"nice":false}},
    "fill":{"field":"s","type":"nominal","scale":{"domain":["QZ-12","QZ-13","QZ-14","QZ-15","QZ-16","QZ-17","QZ-18","QZ-19","QZ-20","QZ-21","QZ-22","QZ-23","QZ-24","QZ-25"],"range":["#808080","#ff0000","#0000ff","#ff00ff","#008000","#000080","#8000ff","#800080","#800000","#808000","#3f72af","#008080","#b87333","#33cc66"]},"legend":null},
    "shape":{"field":"s","type":"nominal","scale":{"domain":["QZ-12","QZ-13","QZ-14","QZ-15","QZ-16","QZ-17","QZ-18","QZ-19","QZ-20","QZ-21","QZ-22","QZ-23","QZ-24","QZ-25"],"range":["square","circle","triangle-up","triangle-down","diamond","triangle-left","triangle-right","circle","cross","diamond","square","circle","cross","triangle-up"]},"legend":null}}},
  {"transform":[{"filter":"false"}],
   "mark":{"type":"point","filled":true,"opacity":1},
   "encoding":{
    "fill":{"field":"s","type":"nominal","scale":{"domain":["QZ-12","QZ-13","QZ-14","QZ-15","QZ-16","QZ-17","QZ-18","QZ-19","QZ-20","QZ-21","QZ-22","QZ-23","QZ-24","QZ-25"],"range":["#808080","#ff0000","#0000ff","#ff00ff","#008000","#000080","#8000ff","#800080","#800000","#808000","#3f72af","#008080","#b87333","#33cc66"]},"legend":{"title":null,"orient":"none","legendX":390.5,"legendY":-28.7,"symbolSize":100,"labelOffset":13,"rowPadding":4,"columns":2,"columnPadding":3,"direction":"horizontal"}},
    "stroke":{"field":"s","type":"nominal","scale":{"domain":["QZ-12","QZ-13","QZ-14","QZ-15","QZ-16","QZ-17","QZ-18","QZ-19","QZ-20","QZ-21","QZ-22","QZ-23","QZ-24","QZ-25"],"range":["#808080","#ff0000","#0000ff","#ff00ff","#008000","#000080","#8000ff","#800080","#800000","#808000","#3f72af","#008080","#b87333","#33cc66"]},"legend":{"title":null,"orient":"none","legendX":390.5,"legendY":-28.7,"symbolSize":100,"labelOffset":13,"rowPadding":4,"columns":2,"columnPadding":3,"direction":"horizontal"}},
    "shape":{"field":"s","type":"nominal","scale":{"domain":["QZ-12","QZ-13","QZ-14","QZ-15","QZ-16","QZ-17","QZ-18","QZ-19","QZ-20","QZ-21","QZ-22","QZ-23","QZ-24","QZ-25"],"range":[
      "M-3.4,0H3.4M-0.3,-0.3H0.3V0.3H-0.3Z",
      "M-3.4,0H3.4M-0.35,0A0.35,0.35 0 1,0 0.35,0A0.35,0.35 0 1,0 -0.35,0Z",
      "M-3.4,0H3.4M0,-0.4L0.38,0.25H-0.38Z",
      "M-3.4,0H3.4M0,0.4L0.38,-0.25H-0.38Z",
      "M-3.4,0H3.4M0,-0.4L0.38,0L0,0.4L-0.38,0Z",
      "M-3.4,0H3.4M-0.4,0L0.25,-0.38V0.38Z",
      "M-3.4,0H3.4M0.4,0L-0.25,-0.38V0.38Z",
      "M-3.4,0H3.4M-0.35,0A0.35,0.35 0 1,0 0.35,0A0.35,0.35 0 1,0 -0.35,0Z",
      "M-3.4,0H3.4M0,-0.4V0.4",
      "M-3.4,0H3.4M0,-0.4L0.38,0L0,0.4L-0.38,0Z",
      "M-3.4,0H3.4M-0.3,-0.3H0.3V0.3H-0.3Z",
      "M-3.4,0H3.4M-0.35,0A0.35,0.35 0 1,0 0.35,0A0.35,0.35 0 1,0 -0.35,0Z",
      "M-3.4,0H3.4M0,-0.4V0.4",
      "M-3.4,0H3.4M0,-0.4L0.38,0.25H-0.38Z"]},"legend":{"title":null,"orient":"none","legendX":390.5,"legendY":-28.7,"symbolSize":100,"labelOffset":13,"rowPadding":4,"columns":2,"columnPadding":3,"direction":"horizontal"}}}}
 ]
},
{
 "width":574,"height":252,
 "resolve":{"scale":{"fill":"independent","stroke":"independent","shape":"independent"}},
 "layer":[
  {"transform":[{"filter":{"field":"s","oneOf":["PB-08","PB-09","PB-10","PB-11","PB-12","PB-13","PB-14","PB-15","PB-16","PB-17","PB-18","PB-19","PB-20","PB-21","PB-22"]}}],
   "mark":{"type":"line","strokeWidth":1.5},
   "encoding":{
    "x":{"field":"e","type":"ordinal","sort":["La","Ce","Pr","Nd","Sm","Eu","Gd","Tb","Dy","Ho","Er","Tm","Yb","Lu"],"scale":{"type":"point","padding":1},"axis":{"title":"（b）","titleFont":"Liberation Serif, Noto Sans CJK SC","titleFontSize":28,"titleFontWeight":"normal","titleColor":"#000","titleX":307,"titleY":54,"titleAlign":"center","titleBaseline":"middle","labelAngle":0}},
    "y":{"field":"v","type":"quantitative","scale":{"type":"log","domain":[1,1000],"nice":false},"axis":{"values":[1,10,100,1000],"format":"d","title":null}},
    "stroke":{"field":"s","type":"nominal","scale":{"domain":["PB-08","PB-09","PB-10","PB-11","PB-12","PB-13","PB-14","PB-15","PB-16","PB-17","PB-18","PB-19","PB-20","PB-21","PB-22"],"range":["#000000","#ff0000","#0000ff","#ff00ff","#008000","#000080","#8000ff","#800080","#800000","#808000","#3f72af","#008080","#b87333","#33cc66","#c0508f"]},"legend":null}}},
  {"transform":[{"filter":{"field":"s","oneOf":["PB-08","PB-09","PB-10","PB-11","PB-12","PB-13","PB-14","PB-15","PB-16","PB-17","PB-18","PB-19","PB-20","PB-21","PB-22"]}}],
   "mark":{"type":"point","filled":true,"opacity":1,"size":14},
   "encoding":{
    "x":{"field":"e","type":"ordinal","sort":["La","Ce","Pr","Nd","Sm","Eu","Gd","Tb","Dy","Ho","Er","Tm","Yb","Lu"],"scale":{"type":"point","padding":1}},
    "y":{"field":"v","type":"quantitative","scale":{"type":"log","domain":[1,1000],"nice":false}},
    "fill":{"field":"s","type":"nominal","scale":{"domain":["PB-08","PB-09","PB-10","PB-11","PB-12","PB-13","PB-14","PB-15","PB-16","PB-17","PB-18","PB-19","PB-20","PB-21","PB-22"],"range":["#000000","#ff0000","#0000ff","#ff00ff","#008000","#000080","#8000ff","#800080","#800000","#808000","#3f72af","#008080","#b87333","#33cc66","#c0508f"]},"legend":null},
    "shape":{"field":"s","type":"nominal","scale":{"domain":["PB-08","PB-09","PB-10","PB-11","PB-12","PB-13","PB-14","PB-15","PB-16","PB-17","PB-18","PB-19","PB-20","PB-21","PB-22"],"range":["square","circle","triangle-up","triangle-down","diamond","triangle-left","triangle-right","circle","cross","diamond","square","circle","cross","triangle-up","circle"]},"legend":null}}},
  {"transform":[{"filter":"false"}],
   "mark":{"type":"point","filled":true,"opacity":1},
   "encoding":{
    "fill":{"field":"s","type":"nominal","scale":{"domain":["PB-08","PB-09","PB-10","PB-11","PB-12","PB-13","PB-14","PB-15","PB-16","PB-17","PB-18","PB-19","PB-20","PB-21","PB-22"],"range":["#000000","#ff0000","#0000ff","#ff00ff","#008000","#000080","#8000ff","#800080","#800000","#808000","#3f72af","#008080","#b87333","#33cc66","#c0508f"]},"legend":{"title":null,"orient":"none","legendX":395.2,"legendY":-35.4,"symbolSize":100,"labelOffset":13,"rowPadding":4,"columns":2,"columnPadding":6,"direction":"horizontal"}},
    "stroke":{"field":"s","type":"nominal","scale":{"domain":["PB-08","PB-09","PB-10","PB-11","PB-12","PB-13","PB-14","PB-15","PB-16","PB-17","PB-18","PB-19","PB-20","PB-21","PB-22"],"range":["#000000","#ff0000","#0000ff","#ff00ff","#008000","#000080","#8000ff","#800080","#800000","#808000","#3f72af","#008080","#b87333","#33cc66","#c0508f"]},"legend":{"title":null,"orient":"none","legendX":395.2,"legendY":-35.4,"symbolSize":100,"labelOffset":13,"rowPadding":4,"columns":2,"columnPadding":6,"direction":"horizontal"}},
    "shape":{"field":"s","type":"nominal","scale":{"domain":["PB-08","PB-09","PB-10","PB-11","PB-12","PB-13","PB-14","PB-15","PB-16","PB-17","PB-18","PB-19","PB-20","PB-21","PB-22"],"range":[
      "M-3.4,0H3.4M-0.3,-0.3H0.3V0.3H-0.3Z",
      "M-3.4,0H3.4M-0.35,0A0.35,0.35 0 1,0 0.35,0A0.35,0.35 0 1,0 -0.35,0Z",
      "M-3.4,0H3.4M0,-0.4L0.38,0.25H-0.38Z",
      "M-3.4,0H3.4M0,0.4L0.38,-0.25H-0.38Z",
      "M-3.4,0H3.4M0,-0.4L0.38,0L0,0.4L-0.38,0Z",
      "M-3.4,0H3.4M-0.4,0L0.25,-0.38V0.38Z",
      "M-3.4,0H3.4M0.4,0L-0.25,-0.38V0.38Z",
      "M-3.4,0H3.4M-0.35,0A0.35,0.35 0 1,0 0.35,0A0.35,0.35 0 1,0 -0.35,0Z",
      "M-3.4,0H3.4M0,-0.4V0.4",
      "M-3.4,0H3.4M0,-0.4L0.38,0L0,0.4L-0.38,0Z",
      "M-3.4,0H3.4M-0.3,-0.3H0.3V0.3H-0.3Z",
      "M-3.4,0H3.4M-0.35,0A0.35,0.35 0 1,0 0.35,0A0.35,0.35 0 1,0 -0.35,0Z",
      "M-3.4,0H3.4M0,-0.4V0.4",
      "M-3.4,0H3.4M0,-0.4L0.38,0.25H-0.38Z",
      "M-3.4,0H3.4"]},"legend":{"title":null,"orient":"none","legendX":395.2,"legendY":-35.4,"symbolSize":100,"labelOffset":13,"rowPadding":4,"columns":2,"columnPadding":6,"direction":"horizontal"}}}}
 ]
}
],
"config":{
 "view":{"stroke":null},
 "axis":{"domainColor":"#1a1a1a","domainWidth":1.6,"tickColor":"#1a1a1a","tickWidth":1.6,"tickSize":-5,"labelFont":"Liberation Serif","labelFontWeight":"bold","labelFontSize":18,"labelColor":"#000","grid":false,"labelPadding":12},
 "legend":{"labelFont":"Liberation Serif","labelFontSize":14,"labelColor":"#000","padding":0,"symbolStrokeWidth":1.5,"symbolOpacity":1}
}
}
